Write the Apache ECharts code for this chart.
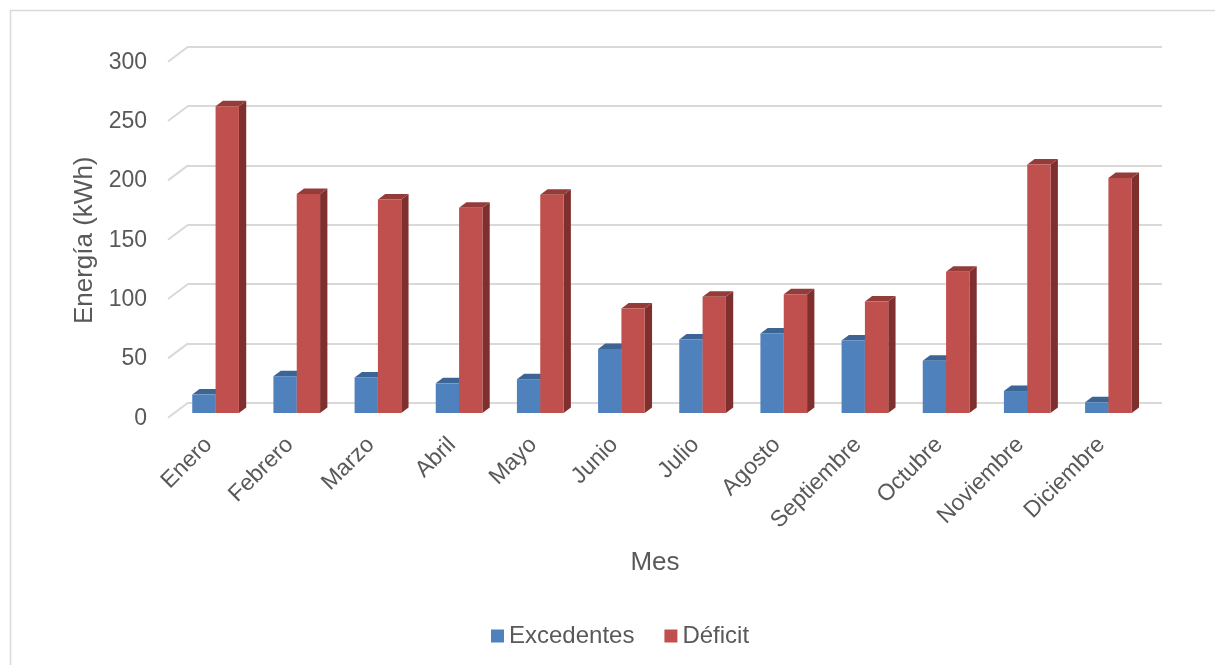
<!DOCTYPE html>
<html>
<head>
<meta charset="utf-8">
<script src="https://cdn.jsdelivr.net/npm/echarts@6/dist/echarts.min.js"></script>
<style>html,body{margin:0;padding:0;background:#fff;}#c{width:1215px;height:665px;}</style>
</head>
<body>
<div id="c"></div>
<script>
const months = ['Enero','Febrero','Marzo','Abril','Mayo','Junio','Julio','Agosto','Septiembre','Octubre','Noviembre','Diciembre'];
const excedentes = [15.5, 31, 30, 25, 28.5, 54, 62, 67, 61, 44, 18.5, 9];
const deficit = [258.5, 184.5, 180, 173, 184, 88, 98, 100, 94, 119, 209.5, 198];
const yTicks = [0, 50, 100, 150, 200, 250, 300];

const FONT = '"Liberation Sans", Arial, sans-serif';
const TXT = '#595959';
const GRIDC = '#d9d9d9';
const DEPTH = [7.3, -5.5];   // bar depth offset (oblique projection)
const WALL = [20, -15];      // wall depth offset

function barRender(side, colors) {
  return function (params, api) {
    const i = api.value(0);
    const v = api.value(1);
    const base = api.coord([i, 0]);
    const top = api.coord([i, v]);
    const band = api.size([1, 0])[0];
    const w = band * 0.2875;
    const x0 = side < 0 ? base[0] - w : base[0];
    const x1 = x0 + w;
    const yb = base[1], yt = top[1];
    const dx = DEPTH[0], dy = DEPTH[1];
    return {
      type: 'group',
      children: [
        { type: 'polygon', shape: { points: [[x1, yb], [x1 + dx, yb + dy], [x1 + dx, yt + dy], [x1, yt]] },
          style: { fill: colors.side } },
        { type: 'polygon', shape: { points: [[x0, yt], [x0 + dx, yt + dy], [x1 + dx, yt + dy], [x1, yt]] },
          style: { fill: colors.top } },
        { type: 'rect', shape: { x: x0, y: yt, width: w, height: yb - yt },
          style: { fill: colors.front } }
      ]
    };
  };
}

const chart = echarts.init(document.getElementById('c'), null, { renderer: 'canvas' });
chart.setOption({
  animation: false,
  backgroundColor: '#fff',
  textStyle: { fontFamily: FONT },
  graphic: [{
    type: 'rect', shape: { x: 10.5, y: 10.5, width: 1220, height: 670 },
    style: { fill: 'none', stroke: GRIDC, lineWidth: 1.5 }, z: -10
  }],
  legend: {
    left: 486, top: 619,
    itemWidth: 13, itemHeight: 13, itemGap: 30,
    icon: 'rect',
    textStyle: { fontSize: 24, color: TXT, fontFamily: FONT },
    data: ['Excedentes', 'Déficit']
  },
  grid: [
    { left: 168, top: 62.3, width: 974, height: 356 },   // front of walls (labels)
    { left: 188, top: 46.7, width: 974, height: 356 },   // back wall (gridlines)
    { left: 175, top: 57, width: 974, height: 356 }      // bar front plane
  ],
  xAxis: [
    { gridIndex: 0, type: 'category', data: months,
      axisLine: { show: false }, axisTick: { show: false },
      axisLabel: { interval: 0, rotate: 45, fontSize: 23, color: TXT, margin: 23, fontFamily: FONT },
      name: 'Mes', nameLocation: 'middle', nameGap: 132,
      nameTextStyle: { fontSize: 26, color: TXT, fontFamily: FONT } },
    { gridIndex: 1, type: 'category', data: months, show: false },
    { gridIndex: 2, type: 'category', data: months, show: false }
  ],
  yAxis: [
    { gridIndex: 0, type: 'value', min: 0, max: 300, interval: 50,
      axisLine: { show: false }, axisTick: { show: false }, splitLine: { show: false },
      axisLabel: { fontSize: 23, color: TXT, margin: 21, fontFamily: FONT },
      name: 'Energía (kWh)', nameLocation: 'middle', nameGap: 68,
      nameTextStyle: { fontSize: 26, color: TXT, fontFamily: FONT } },
    { gridIndex: 1, type: 'value', min: 0, max: 300, interval: 50,
      axisLine: { show: false }, axisTick: { show: false }, axisLabel: { show: false },
      splitLine: { show: true, lineStyle: { color: GRIDC, width: 2 } } },
    { gridIndex: 2, type: 'value', min: 0, max: 300, interval: 50, show: false,
      splitLine: { show: false } }
  ],
  series: [
    { type: 'custom', name: 'walls', xAxisIndex: 1, yAxisIndex: 1, silent: true, z: 1,
      data: yTicks.map(t => [0, t]),
      renderItem: function (params, api) {
        const y = api.coord([0, api.value(1)])[1];
        const x = params.coordSys.x;
        return { type: 'line', shape: { x1: x, y1: y, x2: x - WALL[0], y2: y - WALL[1] },
                 style: { stroke: GRIDC, lineWidth: 2 } };
      }
    },
    { type: 'custom', name: 'Excedentes', xAxisIndex: 2, yAxisIndex: 2, z: 3,
      itemStyle: { color: '#4f81bd' },
      data: excedentes.map((v, i) => [i, v]),
      renderItem: barRender(-1, { front: '#4f81bd', top: '#3c6596', side: '#355b88' })
    },
    { type: 'custom', name: 'Déficit', xAxisIndex: 2, yAxisIndex: 2, z: 4,
      itemStyle: { color: '#c0504d' },
      data: deficit.map((v, i) => [i, v]),
      renderItem: barRender(1, { front: '#c0504d', top: '#943c39', side: '#7f302e' })
    }
  ]
});
</script>
</body>
</html>
